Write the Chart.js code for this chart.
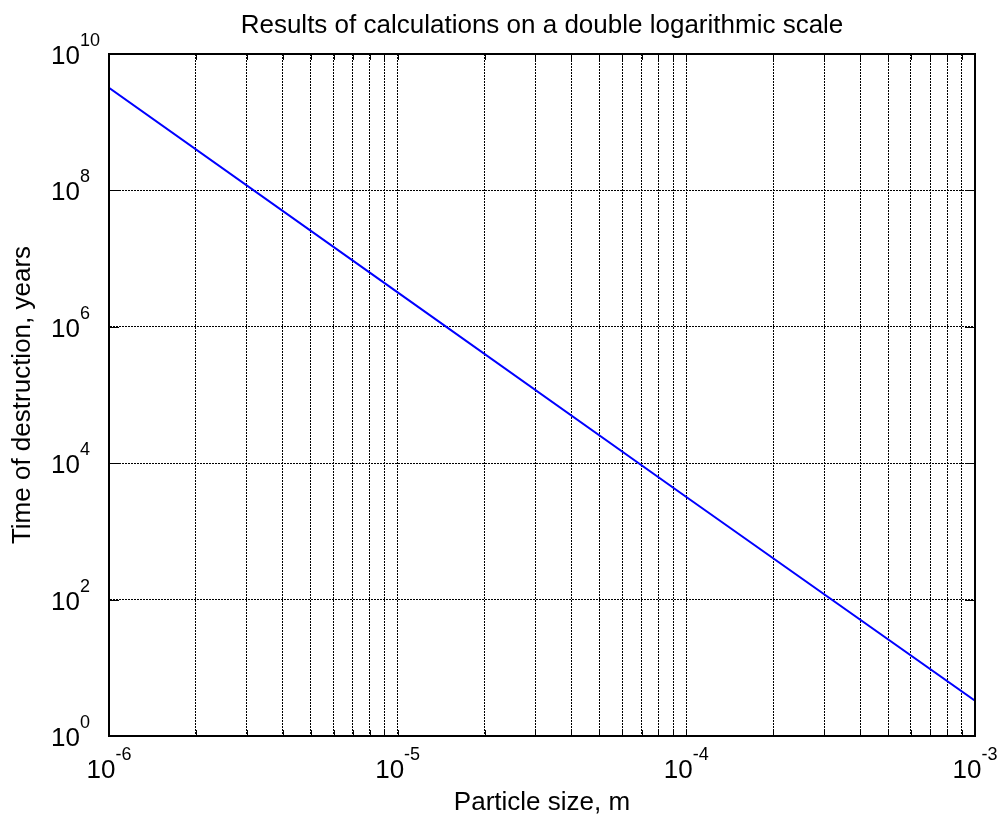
<!DOCTYPE html>
<html>
<head>
<meta charset="utf-8">
<title>Results of calculations on a double logarithmic scale</title>
<script src="https://cdn.jsdelivr.net/npm/chart.js@4.4.0/dist/chart.umd.min.js"></script>
<style>
    html, body { margin: 0; padding: 0; background: #fff; }
    #wrap { width: 1000px; height: 816px; }
</style>
</head>
<body>
<div id="wrap"><canvas id="lifeChart" width="1000" height="816"></canvas></div>
<script>
// values
var particleSize = [1e-6, 1e-5, 1e-4, 1e-3];
var destructionTime = [3.2e9, 3.2e6, 3.2e3, 3.3];

// axis ticks, as powers of ten
var xDecades = [-6, -5, -4, -3];
var xSubSteps = [1, 2, 3, 4, 5, 6, 7, 8, 9];
var yDecades = [0, 2, 4, 6, 8, 10];

var FONT = 'Arial, "Liberation Sans", sans-serif';

// grid positions on x: 1..9 in every decade, plus the last decade
var xGrid = [];
xDecades.forEach(function (d, i) {
    if (i === xDecades.length - 1) {
        xGrid.push(Math.pow(10, d));
        return;
    }
    xSubSteps.forEach(function (m) {
        xGrid.push(m * Math.pow(10, d));
    });
});
var yGrid = yDecades.map(function (d) { return Math.pow(10, d); });

// matlab style box, inner tick marks and 10^n labels
var matlabAxes = {
    id: 'matlabAxes',
    afterDraw: function (chart) {
        var ctx = chart.ctx;
        var area = chart.chartArea;
        var xs = chart.scales.x;
        var ys = chart.scales.y;

        ctx.save();
        ctx.strokeStyle = '#000';
        ctx.setLineDash([]);
        ctx.lineWidth = 1;
        ctx.beginPath();
        xs.ticks.forEach(function (t) {
            var px = Math.round(xs.getPixelForValue(t.value)) + 0.5;
            ctx.moveTo(px, area.bottom);
            ctx.lineTo(px, area.bottom - 6);
            ctx.moveTo(px, area.top);
            ctx.lineTo(px, area.top + 6);
        });
        ys.ticks.forEach(function (t) {
            var py = Math.round(ys.getPixelForValue(t.value)) + 0.5;
            ctx.moveTo(area.left, py);
            ctx.lineTo(area.left + 10, py);
            ctx.moveTo(area.right, py);
            ctx.lineTo(area.right - 10, py);
        });
        ctx.stroke();

        ctx.lineWidth = 2;
        ctx.strokeRect(area.left, area.top, area.right - area.left, area.bottom - area.top);

        // tick labels
        ctx.fillStyle = '#000';
        ctx.textAlign = 'left';
        ctx.textBaseline = 'alphabetic';
        var baseFont = '26px ' + FONT;
        var expFont = '18px ' + FONT;

        xDecades.forEach(function (d) {
            var px = xs.getPixelForValue(Math.pow(10, d));
            ctx.font = baseFont;
            var w1 = ctx.measureText('10').width;
            ctx.font = expFont;
            var w2 = ctx.measureText(String(d)).width;
            var start = px - (w1 + w2) / 2;
            ctx.font = baseFont;
            ctx.fillText('10', start, area.bottom + 42);
            ctx.font = expFont;
            ctx.fillText(String(d), start + w1, area.bottom + 24);
        });

        yDecades.forEach(function (d) {
            var py = ys.getPixelForValue(Math.pow(10, d));
            ctx.font = baseFont;
            var w1 = ctx.measureText('10').width;
            ctx.fillText('10', 51, py + 10);
            ctx.font = expFont;
            ctx.fillText(String(d), 51 + w1, py - 8);
        });
        ctx.restore();
    }
};

var ctx = document.getElementById('lifeChart').getContext('2d');
var lifeChart = new Chart(ctx, {
    type: 'scatter',
    data: {
        datasets: [{
            label: 'Time of destruction',
            data: particleSize.map(function (x, i) {
                return { x: x, y: destructionTime[i] };
            }),
            showLine: true,
            borderColor: '#0000ff',
            borderWidth: 2,
            pointRadius: 0,
            fill: false,
            tension: 0
        }]
    },
    options: {
        responsive: false,
        animation: false,
        layout: {
            padding: { left: 0, right: 25, top: 0, bottom: 0 }
        },
        plugins: {
            legend: { display: false },
            tooltip: { enabled: false },
            title: {
                display: true,
                fullSize: false,
                text: 'Results of calculations on a double logarithmic scale',
                color: '#000',
                font: { family: FONT, size: 26, weight: 'normal', lineHeight: 1 },
                padding: { top: 13, bottom: 15 }
            }
        },
        scales: {
            x: {
                type: 'logarithmic',
                position: 'bottom',
                min: 1e-6,
                max: 1e-3,
                afterBuildTicks: function (scale) {
                    scale.ticks = xGrid.map(function (v) { return { value: v }; });
                },
                ticks: { display: false },
                grid: { color: '#000', lineWidth: 1, drawTicks: false },
                border: { display: true, color: '#000', width: 2, dash: [2, 1] },
                title: {
                    display: true,
                    text: 'Particle size, m',
                    color: '#000',
                    font: { family: FONT, size: 26, lineHeight: 1 },
                    padding: { top: 54, bottom: 0 }
                }
            },
            y: {
                type: 'logarithmic',
                position: 'left',
                min: 1,
                max: 1e10,
                afterBuildTicks: function (scale) {
                    scale.ticks = yGrid.map(function (v) { return { value: v }; });
                },
                ticks: { display: false },
                grid: { color: '#000', lineWidth: 1, drawTicks: false },
                border: { display: true, color: '#000', width: 2, dash: [2, 1] },
                title: {
                    display: true,
                    text: 'Time of destruction, years',
                    color: '#000',
                    font: { family: FONT, size: 26, lineHeight: 1 },
                    padding: { top: 10, bottom: 73 }
                }
            }
        }
    },
    plugins: [matlabAxes]
});
</script>
</body>
</html>
